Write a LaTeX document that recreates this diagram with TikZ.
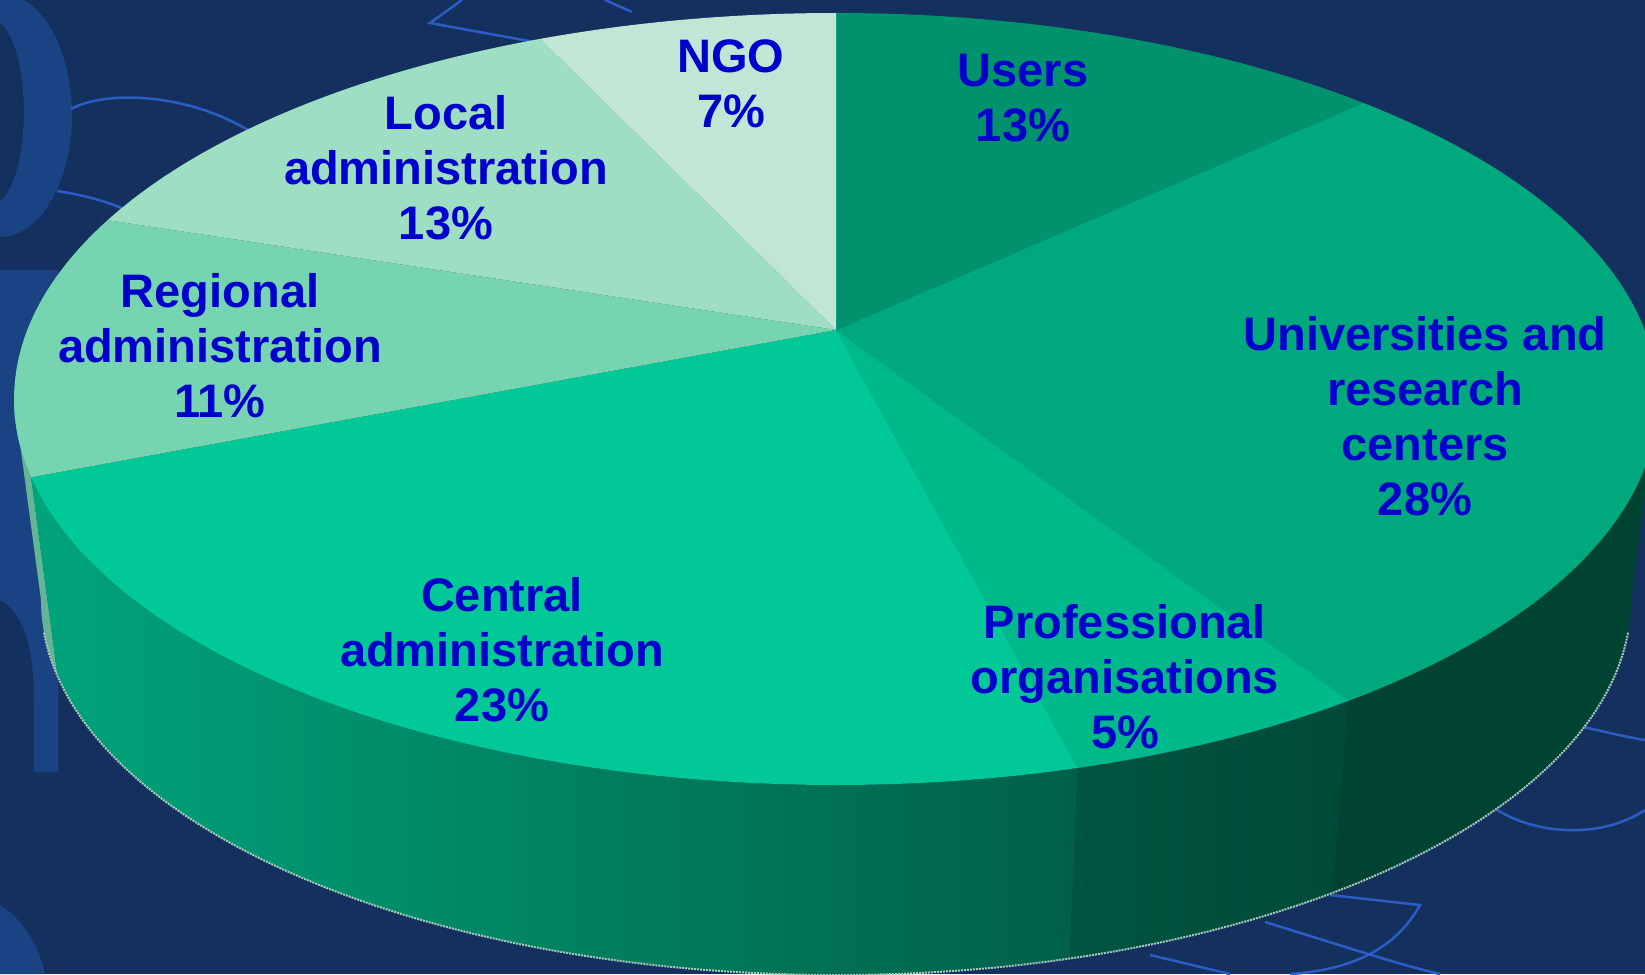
\documentclass[tikz,border=0pt]{standalone}
\usepackage{fontspec}
\setmainfont{Liberation Sans}
\usetikzlibrary{calc}

\definecolor{bgnavy}{HTML}{14305F}
\definecolor{blobblue}{HTML}{1A4384}
\definecolor{decoline}{HTML}{2D5DC4}
\definecolor{txtblue}{HTML}{0000CC}
\definecolor{ngocol}{HTML}{C0E6D6}
\definecolor{localcol}{HTML}{9EDEC3}
\definecolor{regcol}{HTML}{76D4B0}
\definecolor{centcol}{HTML}{00C896}
\definecolor{profcol}{HTML}{00B98B}
\definecolor{univcol}{HTML}{00A87D}
\definecolor{usercol}{HTML}{00916D}
\definecolor{edgegrey}{HTML}{A6CABC}

\begin{document}
\begin{tikzpicture}[x=1pt, y=-1pt,
    lbl/.style={font=\bfseries\fontsize{47}{55}\selectfont, text=txtblue, align=center, inner sep=0pt},
    deco/.style={draw=decoline, line width=2.5pt}]
    \useasboundingbox (0,0) rectangle (1645,974);
    \clip (0,0) rectangle (1645,974);
    \fill[bgnavy] (0,0) rectangle (1645,974);

    % background shapes
    \fill[blobblue, even odd rule] (0,115) ellipse[x radius=72, y radius=122] (-8,112) ellipse[x radius=32, y radius=92];
    \fill[blobblue] (0,270) -- (58,270) -- (58,772) -- (34,772) -- (34,700) .. controls (34,640) and (20,610) .. (0,600) -- cycle;
    \fill[blobblue] (0,905) .. controls (25,920) and (40,950) .. (45,974) -- (0,974) -- cycle;
    \draw[deco] (462,0) -- (430,23) -- (545,44);
    \draw[deco] (605,0) -- (632,12);
    \draw[deco] (71,109) .. controls (110,88) and (200,95) .. (260,138);
    \draw[deco] (57,191) .. controls (90,196) and (120,205) .. (142,218);
    \draw[deco] (1560,722) .. controls (1590,728) and (1620,736) .. (1645,740);
    \draw[deco] (1490,805) .. controls (1530,835) and (1600,840) .. (1645,810);
    \draw[deco] (1330,895) -- (1420,905) .. controls (1395,950) and (1350,970) .. (1290,974);
    \draw[deco] (1265,922) .. controls (1340,945) and (1400,965) .. (1440,974);
    \draw[deco] (1150,955) -- (1230,974);

    % pie geometry
    \coordinate (topc) at (836,399);
    \coordinate (botc) at (836,600);
    \coordinate (apex) at (836,330);

    % side walls
    \fill[regcol!85!black] ($(topc)+(168.3:822 and 386)$) arc[start angle=168.3, end angle=180, x radius=822, y radius=386]
        -- ($(botc)+(180:795 and 375)$) arc[start angle=180, end angle=168.3, x radius=795, y radius=375] -- cycle;
    \shade[left color=centcol!82!black, middle color=centcol!62!black, right color=centcol!48!black]
        ($(topc)+(168.3:822 and 386)$) arc[start angle=168.3, end angle=72.9, x radius=822, y radius=386]
        -- ($(botc)+(72.9:795 and 375)$) arc[start angle=72.9, end angle=168.3, x radius=795, y radius=375] -- cycle;
    \shade[left color=profcol!46!black, right color=profcol!40!black]
        ($(topc)+(72.9:822 and 386)$) arc[start angle=72.9, end angle=51.4, x radius=822, y radius=386]
        -- ($(botc)+(51.4:795 and 375)$) arc[start angle=51.4, end angle=72.9, x radius=795, y radius=375] -- cycle;
    \fill[univcol!40!black]
        ($(topc)+(51.4:822 and 386)$) arc[start angle=51.4, end angle=0, x radius=822, y radius=386]
        -- ($(botc)+(0:795 and 375)$) arc[start angle=0, end angle=51.4, x radius=795, y radius=375] -- cycle;
    \draw[edgegrey, densely dotted, line width=2pt] ($(botc)+(5:795 and 375)$) arc[start angle=5, end angle=175, x radius=795, y radius=375];

    % top face
    \foreach \a/\b/\c in {-90/-50.1/usercol, -50.1/51.4/univcol, 51.4/72.9/profcol, 72.9/168.3/centcol,
                          168.3/207.6/regcol, 207.6/248.9/localcol, 248.9/270/ngocol}
        \fill[\c] (apex) -- ($(topc)+(\a:822 and 386)$) arc[start angle=\a, end angle=\b, x radius=822, y radius=386] -- cycle;

    % labels
    \node[lbl] (ngo) at (731,84) {NGO\\7\%};
    \node[lbl] (users) at (1023,98) {Users\\13\%};
    \node[lbl] (univ) at (1425,416) {Universities and\\research\\centers\\28\%};
    \node[lbl] (prof) at (1125,677) {Professional\\organisations\\5\%};
    \node[lbl] (central) at (502,650) {Central\\administration\\23\%};
    \node[lbl] (regional) at (220,346) {Regional\\administration\\11\%};
    \node[lbl] (local) at (446,168) {Local\\administration\\13\%};
\end{tikzpicture}
\end{document}
